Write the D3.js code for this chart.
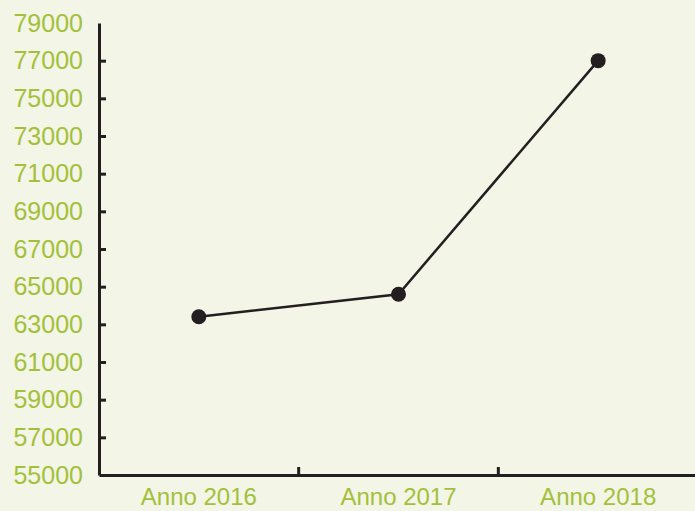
<!DOCTYPE html>
<html>
<head>
<meta charset="utf-8">
<script src="https://cdn.jsdelivr.net/npm/d3@7"></script>
<style>
  body { margin: 0; background: #f3f5e6; }
  svg { display: block; }
  .axis text { fill: #a3c03b; font-family: "Liberation Sans", Arial, sans-serif; font-size: 24px; }
  .y.axis text { font-size: 25px; }
  .axis path, .axis line { stroke: #231f20; stroke-width: 3px; }
</style>
</head>
<body>
<script>
// values
var years = ["Anno 2016", "Anno 2017", "Anno 2018"];
var values = [63400, 64600, 77000];
var yTicks = [55000, 57000, 59000, 61000, 63000, 65000, 67000, 69000, 71000, 73000, 75000, 77000, 79000];

var width = 695, height = 511;

var svg = d3.select("body").append("svg")
    .attr("width", width)
    .attr("height", height);

var x = d3.scaleBand()
    .domain(years)
    .range([99, 698]);

var y = d3.scaleLinear()
    .domain([55000, 79000])
    .range([475, 23]);

var data = years.map(function (d, i) { return {year: d, value: values[i]}; });

// y axis, ticks pointing into the plot
var yAxis = svg.append("g")
    .attr("class", "y axis")
    .attr("transform", "translate(99,0)")
    .call(d3.axisRight(y).tickValues(yTicks).tickFormat(d3.format("d")).tickSize(7).tickSizeOuter(0));
yAxis.selectAll(".tick text")
    .attr("x", -16)
    .attr("text-anchor", "end");
yAxis.selectAll(".tick line")
    .filter(function (d) { return d === 79000 || d === 55000; })
    .remove();

// x axis, ticks between the categories pointing up
var xAxis = svg.append("g")
    .attr("class", "x axis")
    .attr("transform", "translate(0,475)")
    .call(d3.axisBottom(x).tickSize(0).tickSizeOuter(0));
xAxis.selectAll(".tick text").attr("y", 13).attr("dy", "0.71em");

xAxis.selectAll(".sep")
    .data(years.slice(1))
    .enter().append("line")
    .attr("x1", function (d) { return x(d); })
    .attr("x2", function (d) { return x(d); })
    .attr("y1", 0)
    .attr("y2", -8);

var line = d3.line()
    .x(function (d) { return x(d.year) + x.bandwidth() / 2; })
    .y(function (d) { return y(d.value); });

svg.append("path")
    .datum(data)
    .attr("d", line)
    .attr("fill", "none")
    .attr("stroke", "#231f20")
    .attr("stroke-width", 2.5);

svg.selectAll(".dot")
    .data(data)
    .enter().append("circle")
    .attr("cx", function (d) { return x(d.year) + x.bandwidth() / 2; })
    .attr("cy", function (d) { return y(d.value); })
    .attr("r", 7.5)
    .attr("fill", "#231f20");
</script>
</body>
</html>
